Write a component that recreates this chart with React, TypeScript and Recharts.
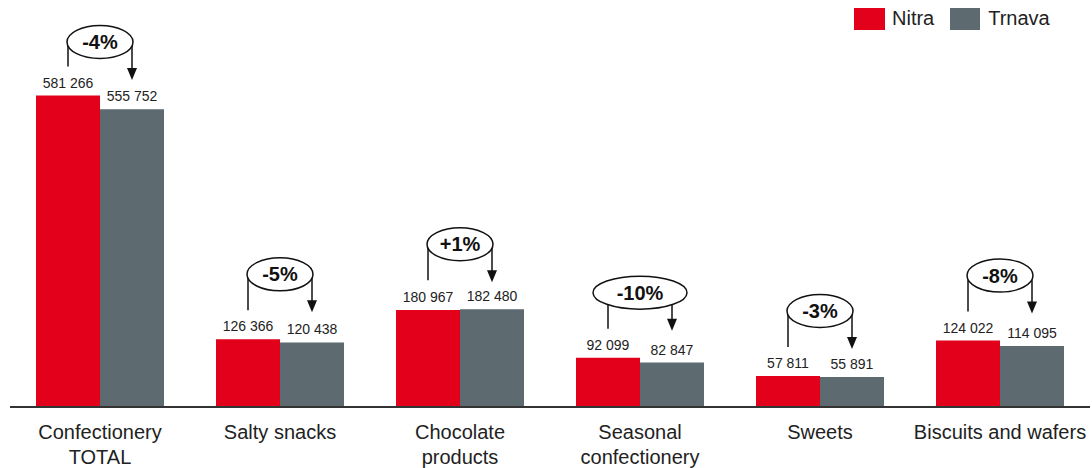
import React from 'react';
import { BarChart, Bar, XAxis, YAxis, LabelList } from 'recharts';

const categories = ['Confectionery\nTOTAL', 'Salty snacks', 'Chocolate\nproducts', 'Seasonal\nconfectionery', 'Sweets', 'Biscuits and wafers'];
const nitra = [581266, 126366, 180967, 92099, 57811, 124022];
const trnava = [555752, 120438, 182480, 82847, 55891, 114095];
const changes = ['-4%', '-5%', '+1%', '-10%', '-3%', '-8%'];
const seriesNames = ['Nitra', 'Trnava'];

const RED = '#E2001A';
const GRAY = '#5D6A70';
const FONT = '"Liberation Sans", Arial, sans-serif';

const data = categories.map((c, i) => ({ name: c, nitra: nitra[i], trnava: trnava[i], change: changes[i] }));

const fmt = (v: number) => String(v).replace(/\B(?=(\d{3})+(?!\d))/g, ' ');

const ValueLabel = (props: any) => {
  const { x, y, width, value } = props;
  return (
    <text x={Number(x) + Number(width) / 2} y={Number(y) - 8} textAnchor="middle" fontSize={14} fill="#222" fontFamily={FONT}>
      {fmt(Number(value))}
    </text>
  );
};

const Annotation = (props: any) => {
  const { x, y, width, height, value, index } = props;
  const X = Number(x), Y = Number(y), W = Number(width), H = Number(height);
  const baseline = Y + H;
  const ppu = H / Number(value);
  const trTop = baseline - trnava[index] * ppu;
  const top = Math.min(Y, trTop);
  const cx = X + W;
  const cy = Math.max(top - 65, 42);
  const label = changes[index];
  const rx = 33 + Math.max(0, label.length - 3) * 14;
  const ry = 16.5;
  const lx = X + W / 2;
  const rxPos = X + W * 1.5;
  const dx = Math.min(Math.abs(lx - cx), rx);
  const startOff = ry * Math.sqrt(Math.max(0, 1 - (dx / rx) * (dx / rx)));
  const leftEnd = Math.min(cy + 36, Y - 29);
  const tip = cy + 38;
  return (
    <g>
      <ellipse cx={cx} cy={cy} rx={rx} ry={ry} fill="#fff" stroke="#111" strokeWidth={1.5} />
      <line x1={lx} y1={cy + startOff} x2={lx} y2={leftEnd} stroke="#111" strokeWidth={1.5} />
      <line x1={rxPos} y1={cy + startOff} x2={rxPos} y2={tip - 10} stroke="#111" strokeWidth={1.5} />
      <polygon points={`${rxPos},${tip} ${rxPos - 5},${tip - 12} ${rxPos + 5},${tip - 12}`} fill="#111" />
      <text x={cx} y={cy} dy={7} textAnchor="middle" fontSize={20} fontWeight="bold" fill="#111" fontFamily={FONT}>
        {label}
      </text>
    </g>
  );
};

const CatTick = (props: any) => {
  const { x, y, payload } = props;
  const lines = String(payload.value).split('\n');
  return (
    <text x={x} y={y} textAnchor="middle" fontSize={20} fill="#222" fontFamily={FONT}>
      {lines.map((l, i) => (
        <tspan key={i} x={x} dy={i === 0 ? 32 : 25}>{l}</tspan>
      ))}
    </text>
  );
};

export default function App() {
  return (
    <div style={{ position: 'absolute', left: 0, top: 0, width: 1092, height: 468, background: '#fff' }}>
      <BarChart
        width={1092}
        height={468}
        data={data}
        margin={{ top: 32, right: 2, left: 10, bottom: 0 }}
        barCategoryGap={26}
        barGap={0}
      >
        <XAxis
          dataKey="name"
          interval={0}
          tickLine={false}
          tickSize={0}
          tickMargin={0}
          height={61}
          axisLine={{ stroke: '#333', strokeWidth: 2 }}
          tick={<CatTick />}
        />
        <YAxis hide domain={[0, 700000]} />
        <Bar dataKey="nitra" name={seriesNames[0]} fill={RED} isAnimationActive={false}>
          <LabelList dataKey="nitra" content={<ValueLabel />} />
          <LabelList dataKey="nitra" content={<Annotation />} />
        </Bar>
        <Bar dataKey="trnava" name={seriesNames[1]} fill={GRAY} isAnimationActive={false}>
          <LabelList dataKey="trnava" content={<ValueLabel />} />
        </Bar>
      </BarChart>
      <div style={{ position: 'absolute', left: 854, top: 7, display: 'flex', alignItems: 'center', fontFamily: FONT, fontSize: 20, color: '#222' }}>
        <div style={{ width: 31, height: 22, background: RED }} />
        <span style={{ marginLeft: 7 }}>{seriesNames[0]}</span>
        <div style={{ width: 30, height: 22, background: GRAY, marginLeft: 16 }} />
        <span style={{ marginLeft: 8 }}>{seriesNames[1]}</span>
      </div>
    </div>
  );
}
